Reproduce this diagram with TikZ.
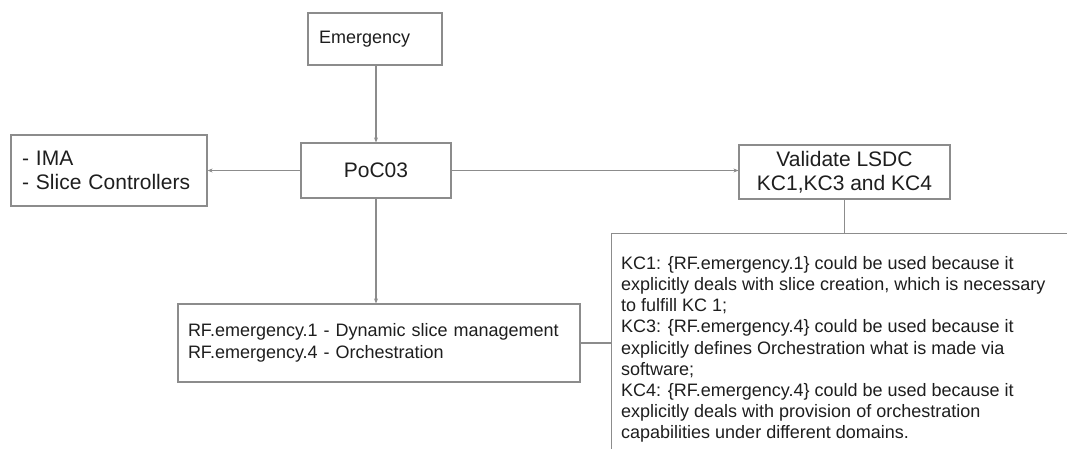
\documentclass[tikz,border=0pt]{standalone}
\usepackage{fontspec}
\setmainfont{Liberation Sans}
\usetikzlibrary{arrows.meta}
\definecolor{edge}{HTML}{8C8C8C}
\definecolor{ink}{HTML}{1E1E1E}
\begin{document}
\begin{tikzpicture}[x=1pt,y=-1pt,
  box/.style={draw=edge, line width=1.2pt, text=ink, inner ysep=0pt},
  link/.style={draw=edge, line width=1.2pt},
  flow/.style={link, -{Stealth[length=5pt,width=4pt]}},
  bigtext/.style={font=\fontsize{21}{24}\selectfont},
  midtext/.style={font=\fontsize{18}{21.5}\selectfont}]
\useasboundingbox (0,0) rectangle (1067,448);
\clip (0,0) rectangle (1067,448);
\fill[white] (0,0) rectangle (1067,448);

% boxes
\node[box, midtext, minimum width=134pt, minimum height=52pt,
      text width=112pt, inner xsep=11pt, align=left] (emg) at (375,39) {Emergency};
\node[box, bigtext, minimum width=150pt, minimum height=55pt] (poc) at (376,170.5) {PoC03};
\node[box, bigtext, minimum width=196pt, minimum height=71pt,
      text width=174pt, inner xsep=11pt, align=left] (ima) at (109,170.5)
      {- IMA\\- Slice Controllers};
\node[box, bigtext, minimum width=211pt, minimum height=54pt, align=center] (val) at (844.5,172)
      {Validate LSDC\\KC1,KC3 and KC4};
\node[box, midtext, minimum width=402pt, minimum height=78pt,
      text width=382pt, inner xsep=10pt, align=left] (rf) at (379,343)
      {RF.emergency.1 - Dynamic slice management\\RF.emergency.4 - Orchestration};

% key-capability box running past the page edge
\node[box, minimum width=470pt, minimum height=230pt, anchor=north west] (kc) at (611,233) {};
\node[text=ink, midtext, inner sep=0pt, anchor=north west, align=left,
      font=\fontsize{18}{21.2}\selectfont] (kctext) at (621,256)
      {KC1: \{RF.emergency.1\} could be used because it\\
       explicitly deals with slice creation, which is necessary\\
       to fulfill KC 1;\\
       KC3: \{RF.emergency.4\} could be used because it\\
       explicitly defines Orchestration what is made via\\
       software;\\
       KC4: \{RF.emergency.4\} could be used because it\\
       explicitly deals with provision of orchestration\\
       capabilities under different domains.};

% connectors
\draw[flow] (emg.south -| poc) -- (poc.north);
\draw[flow] (poc.west) -- (ima.east |- poc.west);
\draw[flow] (poc.east) -- (val.west |- poc.east);
\draw[flow] (poc.south) -- (rf.north -| poc.south);
\draw[link] (val.south) -- (val.south |- kc.north);
\draw[link] (rf.east) -- (rf.east -| kc.west);
\end{tikzpicture}
\end{document}
